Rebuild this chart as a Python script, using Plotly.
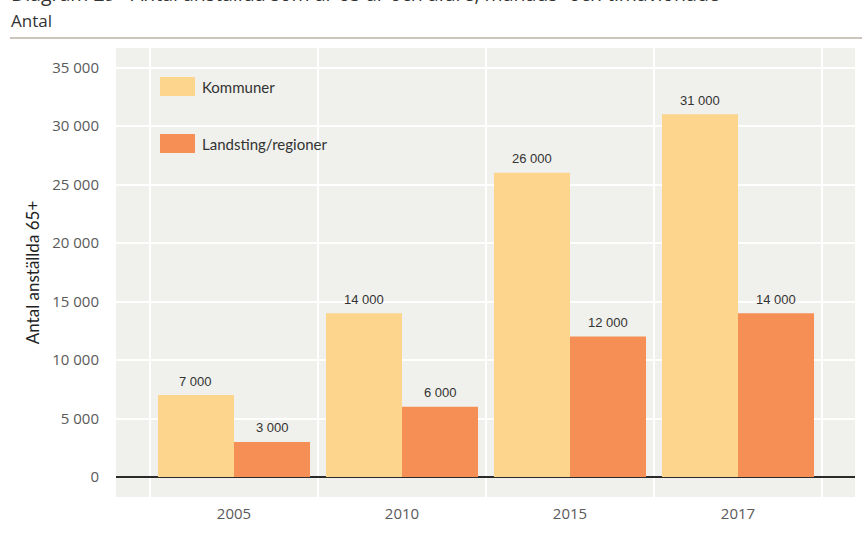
import plotly.graph_objects as go

# Data
years = ["2005", "2010", "2015", "2017"]
kommuner = [7000, 14000, 26000, 31000]
landsting = [3000, 6000, 12000, 14000]
series_names = ["Kommuner", "Landsting/regioner"]
y_ticks = [0, 5000, 10000, 15000, 20000, 25000, 30000, 35000]

COL_K = "#fdd58c"
COL_L = "#f58f55"
PLOT_BG = "#f0f0ec"

W, H = 862, 538
ML, MR, MT, MB = 116, 7, 48, 41
PW, PH = W - ML - MR, H - MT - MB


def px(x):
    return (x - ML) / PW


def py(y):
    return 1 - (y - MT) / PH


def fmt(v):
    return f"{v:,}".replace(",", " ")


xs = list(range(len(years)))
BARGAP = 0.095
half = (1 - BARGAP) / 4  # centre offset of each bar in a group

fig = go.Figure()
fig.add_trace(go.Bar(x=xs, y=kommuner, name=series_names[0],
                     marker=dict(color=COL_K, line=dict(width=0)),
                     showlegend=False))
fig.add_trace(go.Bar(x=xs, y=landsting, name=series_names[1],
                     marker=dict(color=COL_L, line=dict(width=0)),
                     showlegend=False))

annotations = []
# value labels above bars
for i, (k, l) in enumerate(zip(kommuner, landsting)):
    for xv, v in ((i - half, k), (i + half, l)):
        annotations.append(dict(
            x=xv, y=v, xref="x", yref="y", text=fmt(v), showarrow=False,
            yanchor="middle", yshift=14,
            font=dict(family="Liberation Sans, Arial, sans-serif", size=13, color="#333333")))

# title (running off the top of the page) and subtitle
annotations.append(dict(
    x=px(9), y=py(-6), xref="paper", yref="paper", xanchor="left", yanchor="middle",
    text="Diagram 29   Antal anställda som är 65 år och äldre, månads- och timavlönade",
    showarrow=False, font=dict(family="Open Sans, sans-serif", size=19.5, color="#333333")))
annotations.append(dict(
    x=px(9), y=py(20), xref="paper", yref="paper", xanchor="left", yanchor="middle",
    text="Antal", showarrow=False,
    font=dict(family="Open Sans, sans-serif", size=17, color="#333333")))

shapes = []
# rule under the subtitle
shapes.append(dict(type="line", xref="paper", yref="paper",
                   x0=px(10), x1=px(862), y0=py(38), y1=py(38),
                   line=dict(color="#9c8a78", width=1.2)))

# vertical grid lines between the year groups
for b in [i - 0.5 for i in range(len(years) + 1)]:
    shapes.append(dict(type="line", xref="x", yref="paper", x0=b, x1=b, y0=0, y1=1,
                       line=dict(color="#ffffff", width=2), layer="below"))

# legend swatches and labels
for j, (name, col) in enumerate(zip(series_names, [COL_K, COL_L])):
    top = 77 + j * 57
    shapes.append(dict(type="rect", xref="paper", yref="paper",
                       x0=px(160), x1=px(195), y0=py(top + 19), y1=py(top),
                       fillcolor=col, line=dict(width=0)))
    annotations.append(dict(
        x=px(200), y=py(top + 9.5), xref="paper", yref="paper",
        xanchor="left", yanchor="middle", text=name, showarrow=False,
        font=dict(family="Lato, sans-serif", size=15, color="#333333")))

fig.update_layout(
    width=W, height=H,
    margin=dict(l=ML, r=MR, t=MT, b=MB, pad=0),
    paper_bgcolor="#ffffff",
    plot_bgcolor=PLOT_BG,
    barmode="group",
    bargap=BARGAP,
    bargroupgap=0,
    annotations=annotations,
    shapes=shapes,
    xaxis=dict(
        range=[-0.5 - 34 / 168, 3.5 + 33 / 168],
        tickvals=xs, ticktext=years,
        showgrid=False, zeroline=False, showline=False,
        ticks="outside", ticklen=3, tickcolor="rgba(0,0,0,0)",
        tickfont=dict(family="Open Sans, sans-serif", size=15, color="#5a5a5a"),
        fixedrange=True,
    ),
    yaxis=dict(
        range=[-20 / 11.7 * 1000, 429 / 11.7 * 1000],
        tickvals=y_ticks, ticktext=[fmt(v) for v in y_ticks],
        showgrid=True, gridcolor="#ffffff", gridwidth=2,
        zeroline=True, zerolinecolor="#2b2b2b", zerolinewidth=1.5,
        showline=False,
        ticks="outside", ticklen=13, tickcolor="rgba(0,0,0,0)",
        tickfont=dict(family="Open Sans, sans-serif", size=15, color="#5a5a5a"),
        title=dict(text="Antal anställda 65+", standoff=8,
                   font=dict(family="Lato, sans-serif", size=17, color="#222222")),
        fixedrange=True,
    ),
)

fig.write_html("out.html")
